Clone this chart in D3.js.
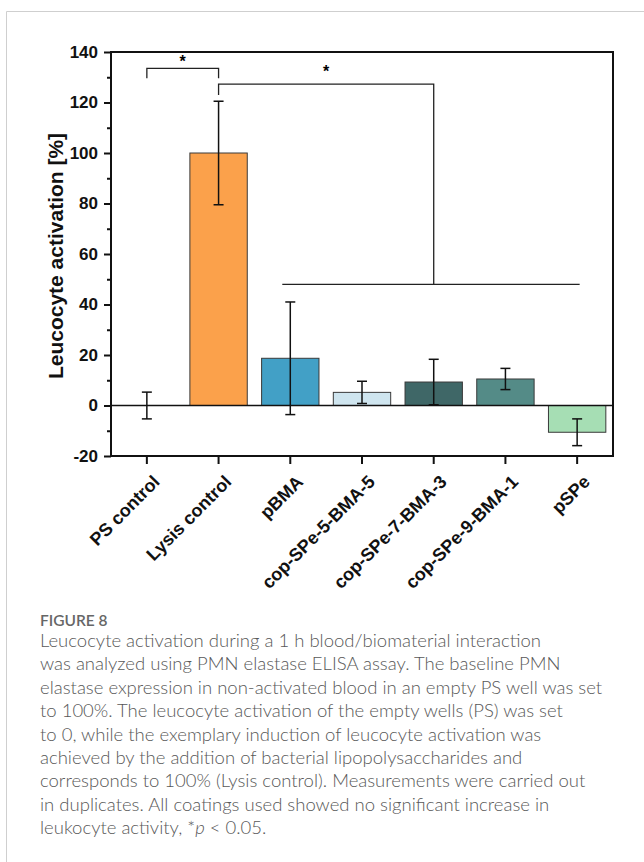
<!DOCTYPE html>
<html><head><meta charset="utf-8">
<script src="https://cdn.jsdelivr.net/npm/d3@7"></script>
<style>
html,body{margin:0;padding:0;background:#fff;}
svg{display:block;}
</style></head>
<body>
<script>
const categories = ["PS control","Lysis control","pBMA","cop-SPe-5-BMA-5","cop-SPe-7-BMA-3","cop-SPe-9-BMA-1","pSPe"];
const values = [0, 100, 18.7, 5.2, 9.3, 10.5, -10.6];
const errors = [5.3, 20.5, 22.3, 4.4, 9.0, 4.2, 5.3];
const barColors = ["none","#FBA14B","#42A0C6","#CFE5EF","#3F6767","#548B87","#A6DEB4"];
const yTicks = [-20,0,20,40,60,80,100,120,140];
const yMinorTicks = [-10,10,30,50,70,90,110,130];
const yLabel = "Leucocyte activation [%]";
// significance: bracket 1 (PS vs Lysis), bracket 2 (Lysis vs coatings group)
const sig1 = {from:0, to:1, top:133.5, legL:129.6, legR:129.6};
const sig2 = {from:1, to:4, legStart:123, top:127.3, bottom:48, groupFrom:2, groupTo:6};
const captionTitle = "FIGURE 8";
const captionLines = [
 "Leucocyte activation during a 1 h blood/biomaterial interaction",
 "was analyzed using PMN elastase ELISA assay. The baseline PMN",
 "elastase expression in non-activated blood in an empty PS well was set",
 "to 100%. The leucocyte activation of the empty wells (PS) was set",
 "to 0, while the exemplary induction of leucocyte activation was",
 "achieved by the addition of bacterial lipopolysaccharides and",
 "corresponds to 100% (Lysis control). Measurements were carried out",
 "in duplicates. All coatings used showed no significant increase in",
 "leukocyte activity, *|p| < 0.05."
];

(function(){
const W=644,H=862;
const FONT="'Liberation Sans', Arial, Helvetica, sans-serif";
const svg=d3.select("body").append("svg").attr("width",W).attr("height",H);

// page frame
svg.append("line").attr("x1",6.5).attr("x2",W).attr("y1",11.5).attr("y2",11.5).attr("stroke","#cfcfcf").attr("stroke-width",1);
svg.append("line").attr("x1",6.5).attr("x2",6.5).attr("y1",11.5).attr("y2",H).attr("stroke","#cfcfcf").attr("stroke-width",1);

const pL=111,pR=613,pT=52,pB=456;
const x=d3.scaleBand().domain(categories).range([pL,pR]).padding(0);
const y=d3.scaleLinear().domain([-20,140]).range([pB,pT]);
const bw=x.bandwidth()*0.8;
const cx=i=>x(categories[i])+x.bandwidth()/2;

const g=svg.append("g");

// bars
g.selectAll("rect.bar").data(values.map((v,i)=>({v,i})).filter(d=>d.v!==0)).enter().append("rect")
 .attr("class","bar")
 .attr("x",d=>cx(d.i)-bw/2)
 .attr("width",bw)
 .attr("y",d=>y(Math.max(0,d.v)))
 .attr("height",d=>Math.abs(y(d.v)-y(0)))
 .attr("fill",d=>barColors[d.i])
 .attr("stroke","#3a3a3a").attr("stroke-width",1);

// zero line
g.append("line").attr("x1",pL).attr("x2",pR).attr("y1",y(0)).attr("y2",y(0)).attr("stroke","#111").attr("stroke-width",1.6);

// error bars
const eb=g.selectAll("g.eb").data(values.map((v,i)=>({v,e:errors[i],i}))).enter().append("g").attr("class","eb")
 .attr("stroke","#111").attr("stroke-width",1.5);
eb.append("line").attr("x1",d=>cx(d.i)).attr("x2",d=>cx(d.i)).attr("y1",d=>y(d.v+d.e)).attr("y2",d=>y(d.v-d.e));
eb.append("line").attr("x1",d=>cx(d.i)-5).attr("x2",d=>cx(d.i)+5).attr("y1",d=>y(d.v+d.e)).attr("y2",d=>y(d.v+d.e));
eb.append("line").attr("x1",d=>cx(d.i)-5).attr("x2",d=>cx(d.i)+5).attr("y1",d=>y(d.v-d.e)).attr("y2",d=>y(d.v-d.e));

// significance brackets
const sg=g.append("g").attr("fill","none").attr("stroke","#222").attr("stroke-width",1.3);
sg.append("path").attr("d",`M${cx(sig1.from)},${y(sig1.legL)}V${y(sig1.top)}H${cx(sig1.to)}V${y(sig1.legR)}`);
sg.append("path").attr("d",`M${cx(sig2.from)},${y(sig2.legStart)}V${y(sig2.top)}H${cx(sig2.to)}V${y(sig2.bottom)}`);
sg.append("line").attr("x1",cx(sig2.groupFrom)-8).attr("x2",cx(sig2.groupTo)+2.5).attr("y1",y(sig2.bottom)).attr("y2",y(sig2.bottom));
g.append("text").attr("x",(cx(sig1.from)+cx(sig1.to))/2).attr("y",y(sig1.top)-1).attr("text-anchor","middle")
 .attr("font-family",FONT).attr("font-weight","bold").attr("font-size",16).text("*");
g.append("text").attr("x",(cx(sig2.from)+cx(sig2.to))/2).attr("y",y(sig1.top)+9).attr("text-anchor","middle")
 .attr("font-family",FONT).attr("font-weight","bold").attr("font-size",16).text("*");

// frame
g.append("rect").attr("x",pL).attr("y",pT).attr("width",pR-pL).attr("height",pB-pT)
 .attr("fill","none").attr("stroke","#111").attr("stroke-width",2);

// y axis
const yAxis=d3.axisLeft(y).tickValues(yTicks).tickSize(7).tickPadding(6).tickFormat(d=>String(d));
const ya=svg.append("g").attr("transform",`translate(${pL},0)`).call(yAxis);
ya.select(".domain").remove();
ya.selectAll(".tick line").attr("stroke","#111").attr("stroke-width",2);
ya.selectAll("text").attr("font-family",FONT).attr("font-weight","bold").attr("font-size",17).attr("fill","#111");
const yMinor=d3.axisLeft(y).tickValues(yMinorTicks).tickSize(4).tickFormat("");
const ym=svg.append("g").attr("transform",`translate(${pL},0)`).call(yMinor);
ym.select(".domain").remove();
ym.selectAll(".tick line").attr("stroke","#111").attr("stroke-width",2);

// x axis
const xAxis=d3.axisBottom(x).tickSize(8).tickFormat("");
const xa=svg.append("g").attr("transform",`translate(0,${pB})`).call(xAxis);
xa.select(".domain").remove();
xa.selectAll(".tick line").attr("stroke","#111").attr("stroke-width",2);
svg.append("g").selectAll("text").data(categories).enter().append("text")
 .attr("transform",d=>`translate(${x(d)+x.bandwidth()/2+14},${pB+27}) rotate(-45)`)
 .attr("text-anchor","end")
 .attr("font-family",FONT).attr("font-weight","bold").attr("font-size",18).attr("fill","#111")
 .text(d=>d);

// y label
svg.append("text").attr("transform",`translate(63,${(pT+pB)/2+2}) rotate(-90)`).attr("text-anchor","middle")
 .attr("font-family",FONT).attr("font-weight","bold").attr("font-size",21).attr("fill","#111")
 .text(yLabel);

// caption
svg.append("text").attr("x",40).attr("y",626).attr("font-family","Lato, 'Open Sans', sans-serif").attr("font-size",15.5)
 .attr("font-weight",600).attr("fill","#666").text(captionTitle);
const cl=svg.append("g").selectAll("text").data(captionLines).enter().append("text")
 .attr("x",40).attr("y",(d,i)=>647+i*23.4)
 .attr("font-family","Lato, 'Open Sans', sans-serif").attr("font-size",18.5).attr("font-weight",300).attr("fill","#585858");
cl.each(function(d){
  const parts=d.split("|");
  const t=d3.select(this);
  parts.forEach((p,k)=>{ t.append("tspan").attr("font-style",k%2===1?"italic":null).text(p); });
});
})();
</script>
</body></html>
